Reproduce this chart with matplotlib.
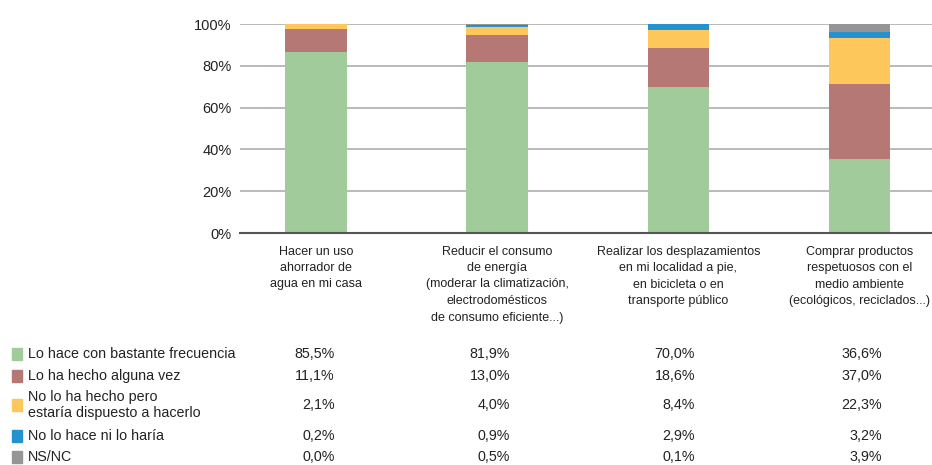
import matplotlib.pyplot as plt
import numpy as np

categories = [
    "Hacer un uso\nahorrador de\nagua en mi casa",
    "Reducir el consumo\nde energía\n(moderar la climatización,\nelectrodomésticos\nde consumo eficiente...)",
    "Realizar los desplazamientos\nen mi localidad a pie,\nen bicicleta o en\ntransporte público",
    "Comprar productos\nrespetuosos con el\nmedio ambiente\n(ecológicos, reciclados...)",
]
series = [
    "Lo hace con bastante frecuencia",
    "Lo ha hecho alguna vez",
    "No lo ha hecho pero\nestaría dispuesto a hacerlo",
    "No lo hace ni lo haría",
    "NS/NC",
]
frecuencia = [85.5, 81.9, 70.0, 36.6]
alguna_vez = [11.1, 13.0, 18.6, 37.0]
dispuesto = [2.1, 4.0, 8.4, 22.3]
no_haria = [0.2, 0.9, 2.9, 3.2]
nsnc = [0.0, 0.5, 0.1, 3.9]
values = [frecuencia, alguna_vez, dispuesto, no_haria, nsnc]
colors = ["#a2cb9c", "#b57874", "#fec75c", "#2592d0", "#959598"]

plt.rcParams['font.family'] = ['Liberation Sans', 'DejaVu Sans']

fig = plt.figure(figsize=(9.32, 4.65), dpi=100)
ax = fig.add_axes([240 / 932, 1 - 233 / 465, 1 - 240 / 932, (233 - 24) / 465])

# 100% stacked: each bar normalised to its total
data = np.array(values)
shares = data / data.sum(axis=0) * 100

x = np.arange(len(categories))
bottom = np.zeros(len(categories))
for vals, col in zip(shares, colors):
    ax.bar(x, vals, bottom=bottom, width=0.34, color=col, zorder=3)
    bottom += vals

ax.set_ylim(0, 100)
ax.set_xlim(-0.42, 3.4)
ax.set_yticks(range(0, 101, 20))
ax.set_yticklabels([f"{v}%" for v in range(0, 101, 20)], fontsize=10.5, color="#222222")
ax.yaxis.grid(True, color="#b4b4b4", linewidth=1.3, zorder=0)
ax.set_axisbelow(True)
ax.tick_params(axis="y", length=0, pad=6)
for s in ["top", "right", "left"]:
    ax.spines[s].set_visible(False)
ax.spines["bottom"].set_color("#555555")
ax.spines["bottom"].set_linewidth(1.5)
ax.spines["bottom"].set_zorder(4)
ax.set_xticks(x)
ax.set_xticklabels(categories, fontsize=9, linespacing=1.5, color="#222222")
ax.tick_params(axis="x", length=0, pad=9)

# data table below the chart
row_y = [354, 376, 405, 436, 457]
val_right = [335, 510, 695, 882]
for i, (name, vals, col) in enumerate(zip(series, values, colors)):
    yy = 1 - row_y[i] / 465
    fig.patches.append(plt.Rectangle((12 / 932, yy - 6 / 465), 10 / 932, 12 / 465,
                                     transform=fig.transFigure, color=col))
    fig.text(28 / 932, yy, name, fontsize=10.3, va="center", ha="left",
             color="#222222", linespacing=1.2)
    for j, v in enumerate(vals):
        fig.text(val_right[j] / 932, yy, f"{v:.1f}%".replace(".", ","), fontsize=10.3,
                 va="center", ha="right", color="#222222")

plt.savefig("out.png", dpi=100)
